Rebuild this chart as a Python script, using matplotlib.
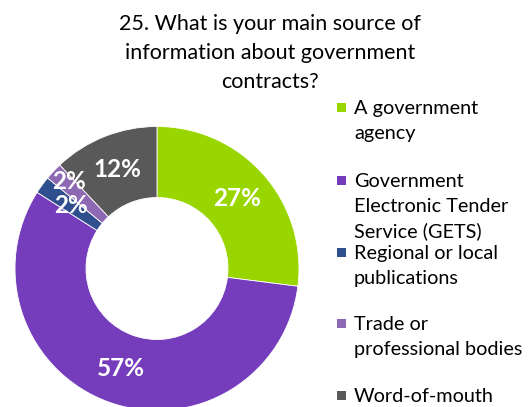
import matplotlib
matplotlib.use("Agg")
import matplotlib.pyplot as plt
import numpy as np
from matplotlib.patches import Rectangle

plt.rcParams['font.family'] = ['Lato', 'DejaVu Sans']

title = "25. What is your main source of\ninformation about government\ncontracts?"
categories = [
    "A government\nagency",
    "Government\nElectronic Tender\nService (GETS)",
    "Regional or local\npublications",
    "Trade or\nprofessional bodies",
    "Word-of-mouth",
]
shares = [27, 57, 2, 2, 12]
colors = ["#99D600", "#753DBC", "#2F4F8E", "#8E69B3", "#595959"]

W, H = 528, 407
fig = plt.figure(figsize=(W / 100, H / 100), dpi=100)
fig.patch.set_facecolor("white")

# donut axes: centre (157, 268.5) px, outer radius 142 px
cx, cy, r = 157, 268.5, 142
ax = fig.add_axes([(cx - r) / W, (H - cy - r) / H, 2 * r / W, 2 * r / H])
wedges, _ = ax.pie(shares, colors=colors, startangle=90, counterclock=False,
                   radius=1.0, wedgeprops=dict(width=0.5, edgecolor="white", linewidth=0.6))
ax.set_xlim(-1, 1)
ax.set_ylim(-1, 1)
ax.set_aspect("equal")
ax.axis("off")

# percentage labels at the middle of the ring
label_shift = {3: (-0.07, 0.10)}
cum = np.cumsum([0] + shares)
for i, v in enumerate(shares):
    mid = np.deg2rad(90 - (cum[i] + v / 2) * 3.6)
    x, y = 0.75 * np.cos(mid), 0.75 * np.sin(mid)
    dx, dy = label_shift.get(i, (0, 0))
    ax.text(x + dx, y + dy, f"{v}%", ha="center", va="center", color="white",
            fontsize=17.5, fontweight="bold")

fig.text(270 / W, 1 - 14 / H, title, ha="center", va="top", fontsize=15.5,
         color="#000000", linespacing=1.56)

# legend: one slot per category, stacked down the right side
slot_y = [107, 180, 252, 323, 395]
for i, lab in enumerate(categories):
    y0 = slot_y[i]
    fig.patches.append(Rectangle(((337) / W, 1 - (y0 + 4.5) / H), 9 / W, 9 / H,
                                 transform=fig.transFigure, facecolor=colors[i],
                                 edgecolor="none"))
    for j, line in enumerate(lab.split("\n")):
        fig.text(354 / W, 1 - (y0 + j * 25) / H, line, ha="left",
                 va="center_baseline", fontsize=14.3, color="#000000")

fig.savefig("out.png", dpi=100)
